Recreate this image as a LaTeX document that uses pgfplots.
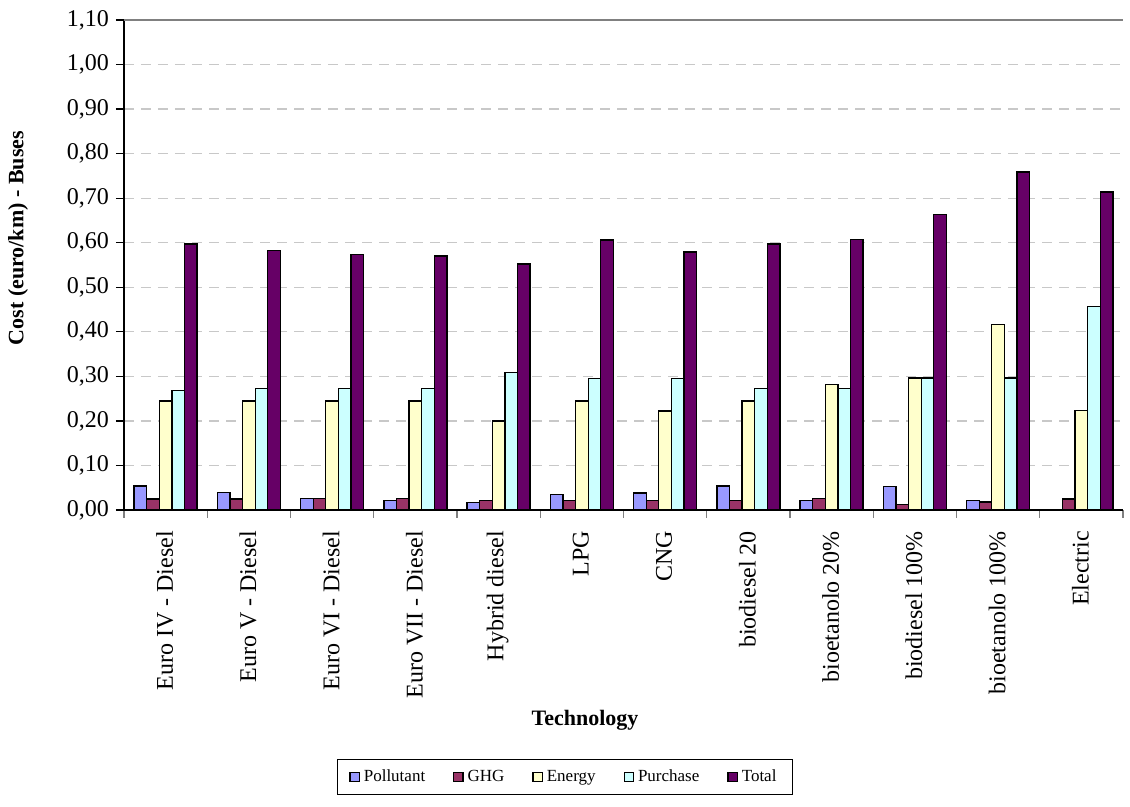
\documentclass[border=0pt]{standalone}
\usepackage{pgfplots}
\pgfplotsset{compat=1.18}
\usepackage{fontspec}
\setmainfont{Liberation Serif}
\definecolor{cPol}{HTML}{9999FF}
\definecolor{cGHG}{HTML}{993366}
\definecolor{cEne}{HTML}{FFFFCC}
\definecolor{cPur}{HTML}{CCFFFF}
\definecolor{cTot}{HTML}{660066}
\definecolor{gridgray}{HTML}{C8C8C8}
\begin{document}
\begin{tikzpicture}
\path[use as bounding box] (-62pt,-148.5pt) rectangle (503pt,255pt);
\begin{axis}[
  at={(0,0)}, anchor=south west,
  scale only axis, width=499.5pt, height=245pt,
  ybar=0pt, bar width=6.3pt,
  xmin=-0.5, xmax=11.5, ymin=0, ymax=1.1,
  axis x line*=bottom, axis y line*=left,
  axis line style={line width=0.6pt, black},
  xtick={0,...,11},
  xticklabels={Euro IV - Diesel, Euro V - Diesel, Euro VI - Diesel, Euro VII - Diesel, Hybrid diesel, LPG, CNG, biodiesel 20, bioetanolo 20\%, biodiesel 100\%, bioetanolo 100\%, Electric},
  minor xtick={-0.5,0.5,...,11.5},
  major x tick style={draw=none},
  minor x tick style={gray, line width=0.6pt},
  tick align=outside,
  minor tick length=4pt,
  major tick length=4pt,
  xticklabel style={rotate=90, anchor=east, xshift=-3pt, yshift=0.5pt, font=\fontsize{12}{14}\selectfont},
  ytick={0,0.1,...,1.0},
  extra y ticks={1.1},
  extra y tick style={grid style={solid, gray, line width=0.6pt}},
  ymajorgrids,
  grid style={gridgray, dash pattern=on 5pt off 3.5pt, line width=0.6pt},
  y tick style={black, line width=0.6pt},
  yticklabel style={font=\fontsize{12}{14}\selectfont, /pgf/number format/.cd, use comma, fixed, fixed zerofill, precision=2, assume math mode=true},
  xlabel={\textbf{Technology}},
  xlabel style={at={(axis description cs:0.4615,-0.4286)}, anchor=center, font=\fontsize{11}{13}\selectfont},
  ylabel={\textbf{Cost (euro/km) - Buses}},
  ylabel style={at={(axis description cs:-0.106,0.555)}, anchor=center, font=\fontsize{11}{13}\selectfont},
  every axis plot/.append style={draw=black, line width=0.65pt},
  legend columns=5,
  legend style={at={(axis description cs:0.4414,-0.545)}, anchor=center, draw=black, line width=0.5pt,
    font=\fontsize{8.5}{10}\selectfont, inner xsep=6pt, inner ysep=3pt,
    /tikz/every even column/.append style={column sep=12pt}},
  legend image code/.code={\draw[#1, line width=0.6pt] (0pt,-2.3pt) rectangle (4.6pt,2.3pt);},
]
\addplot[fill=cPol] coordinates {(0,0.054) (1,0.040) (2,0.026) (3,0.022) (4,0.017) (5,0.035) (6,0.038) (7,0.054) (8,0.022) (9,0.052) (10,0.021) (11,0.000)};
\addplot[fill=cGHG] coordinates {(0,0.025) (1,0.025) (2,0.026) (3,0.026) (4,0.022) (5,0.022) (6,0.022) (7,0.022) (8,0.026) (9,0.013) (10,0.018) (11,0.025)};
\addplot[fill=cEne] coordinates {(0,0.245) (1,0.245) (2,0.245) (3,0.245) (4,0.200) (5,0.245) (6,0.222) (7,0.245) (8,0.281) (9,0.296) (10,0.417) (11,0.223)};
\addplot[fill=cPur] coordinates {(0,0.268) (1,0.273) (2,0.273) (3,0.273) (4,0.308) (5,0.295) (6,0.295) (7,0.273) (8,0.273) (9,0.296) (10,0.296) (11,0.457)};
\addplot[fill=cTot] coordinates {(0,0.597) (1,0.583) (2,0.574) (3,0.570) (4,0.552) (5,0.606) (6,0.579) (7,0.597) (8,0.607) (9,0.664) (10,0.759) (11,0.714)};
\legend{Pollutant, GHG, Energy, Purchase, Total}
\end{axis}
\end{tikzpicture}
\end{document}
